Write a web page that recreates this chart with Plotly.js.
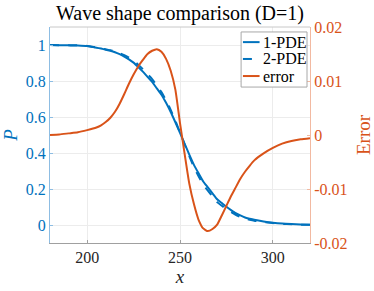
<!DOCTYPE html>
<html>
<head>
<meta charset="utf-8">
<script src="https://cdn.plot.ly/plotly-3.0.1.min.js"></script>
<style>html,body{margin:0;padding:0;background:#fff;}#chart{width:374px;height:291px;}</style>
</head>
<body>
<div id="chart"></div>
<script>
// Position along the domain
const xPos = [180,185,190,195,200,205,207.5,210,212.5,215,217.5,220,222.5,225,227.5,230,232.5,235,237.5,240,242.5,245,247.5,250,252.5,255,257.5,260,262.5,265,267.5,270,272.5,275,277.5,280,282.5,285,287.5,290,295,300,305,310,315,320];
// 1-PDE solution P
const p1 = [1.000,0.999,0.998,0.997,0.994,0.985,0.980,0.974,0.968,0.960,0.949,0.936,0.920,0.902,0.878,0.852,0.823,0.795,0.759,0.724,0.679,0.628,0.571,0.512,0.451,0.391,0.334,0.287,0.242,0.209,0.176,0.143,0.122,0.101,0.083,0.066,0.053,0.042,0.035,0.029,0.020,0.013,0.008,0.005,0.003,0.002];
// 2-PDE solution P
const p2 = [1.000,0.999,0.998,0.998,0.995,0.986,0.982,0.976,0.971,0.964,0.955,0.944,0.930,0.913,0.891,0.866,0.838,0.811,0.775,0.739,0.693,0.640,0.579,0.514,0.448,0.382,0.321,0.271,0.225,0.191,0.159,0.127,0.107,0.088,0.072,0.057,0.045,0.035,0.029,0.024,0.017,0.011,0.006,0.004,0.002,0.001];
// error curve (right axis)
const err = [0.0000,0.0001,0.0003,0.0005,0.0009,0.0014,0.0018,0.0024,0.0032,0.0043,0.0058,0.0076,0.0095,0.0112,0.0127,0.0139,0.0150,0.0156,0.0159,0.0154,0.0141,0.0119,0.0084,0.0022,-0.0035,-0.0090,-0.0128,-0.0157,-0.0173,-0.0178,-0.0174,-0.0166,-0.0149,-0.0131,-0.0113,-0.0097,-0.0081,-0.0068,-0.0057,-0.0047,-0.0034,-0.0024,-0.0016,-0.0011,-0.0008,-0.0006];

const xTicks = [200,250,300];
const xTickText = ['200','250','300'];
const yTicks = [0,0.2,0.4,0.6,0.8,1];
const yTickText = ['0','0.2','0.4','0.6','0.8','1'];
const y2Ticks = [-0.02,-0.01,0,0.01,0.02];
const y2TickText = ['-0.02','-0.01','0','0.01','0.02'];
const seriesNames = ['1-PDE','2-PDE','error'];

const BLUE = '#0072BD', ORANGE = '#D95319';
const FONT = 'Liberation Serif';
const seriesColors = [BLUE, BLUE, ORANGE];
const seriesDash = ['solid', 'dash', 'solid'];

const traces = [
  {x:xPos, y:p1, name:seriesNames[0], type:'scatter', mode:'lines',
   line:{color:BLUE, width:2, shape:'spline', smoothing:0.5}},
  {x:xPos, y:p2, name:seriesNames[1], type:'scatter', mode:'lines',
   line:{color:BLUE, width:2, dash:'dash', shape:'spline', smoothing:0.5}},
  {x:xPos, y:err, name:seriesNames[2], type:'scatter', mode:'lines', yaxis:'y2',
   line:{color:ORANGE, width:2, shape:'spline', smoothing:0.5}}
];

// Compact MATLAB-style legend box (paper coordinates)
const LEG = {x0:0.735, x1:0.9885, y0:0.722, y1:0.977, lineX0:0.742, lineX1:0.806, textX:0.810,
             rows:[0.930, 0.852, 0.773]};
const shapes = [
  {type:'line', xref:'paper', yref:'paper', x0:0, x1:1, y0:1, y1:1, line:{color:'#c8c8c8', width:1}},
  {type:'rect', xref:'paper', yref:'paper', x0:LEG.x0, x1:LEG.x1, y0:LEG.y0, y1:LEG.y1,
   fillcolor:'#ffffff', line:{color:'#a8a8a8', width:1}, layer:'above'}
];
const annotations = [];
seriesNames.forEach((nm, i) => {
  shapes.push({type:'line', xref:'paper', yref:'paper', x0:LEG.lineX0, x1:LEG.lineX1,
               y0:LEG.rows[i], y1:LEG.rows[i], layer:'above',
               line:{color:seriesColors[i], width:2, dash:seriesDash[i]}});
  annotations.push({xref:'paper', yref:'paper', x:LEG.textX, y:LEG.rows[i], xanchor:'left', yanchor:'middle',
                    text:nm, showarrow:false, font:{family:FONT, size:16, color:'#000'}});
});

const layout = {
  width:374, height:291,
  margin:{l:50, r:64, t:27, b:48},
  paper_bgcolor:'#fff', plot_bgcolor:'#fff',
  font:{family:FONT, size:16, color:'#262626'},
  showlegend:false,
  title:{text:'Wave shape comparison (D=1)', font:{family:FONT, size:20, color:'#000'},
         x:0.5, xref:'paper', xanchor:'center', y:1-13/291, yref:'container', yanchor:'middle'},
  xaxis:{range:[180,320], tickvals:xTicks, ticktext:xTickText, ticks:'inside', ticklen:3,
         tickcolor:'#a0a0a0', showline:true, linecolor:'#a0a0a0', linewidth:1,
         showgrid:true, gridcolor:'#ececec', zeroline:false,
         tickfont:{family:FONT, size:16, color:'#262626'},
         title:{text:'<i>x</i>', font:{family:FONT, size:19, color:'#262626'}, standoff:1}},
  yaxis:{range:[-0.1,1.1], tickvals:yTicks, ticktext:yTickText, ticks:'inside', ticklen:3,
         tickcolor:'#8dbde3', showline:true, linecolor:'#8dbde3', linewidth:1,
         showgrid:true, gridcolor:'#ececec', zeroline:false,
         tickfont:{family:FONT, size:16, color:BLUE},
         title:{text:'<i>P</i>', font:{family:FONT, size:19, color:BLUE}, standoff:10}},
  yaxis2:{range:[-0.02,0.02], overlaying:'y', side:'right', tickvals:y2Ticks, ticktext:y2TickText,
          ticks:'inside', ticklen:3, tickcolor:'#f2b9a1', showline:true, linecolor:'#f2b9a1', linewidth:1,
          showgrid:false, zeroline:false,
          tickfont:{family:FONT, size:16, color:ORANGE},
          title:{text:'Error', font:{family:FONT, size:19, color:ORANGE}, standoff:10}},
  shapes:shapes,
  annotations:annotations
};

Plotly.newPlot('chart', traces, layout, {displayModeBar:false, staticPlot:true});
</script>
</body>
</html>
